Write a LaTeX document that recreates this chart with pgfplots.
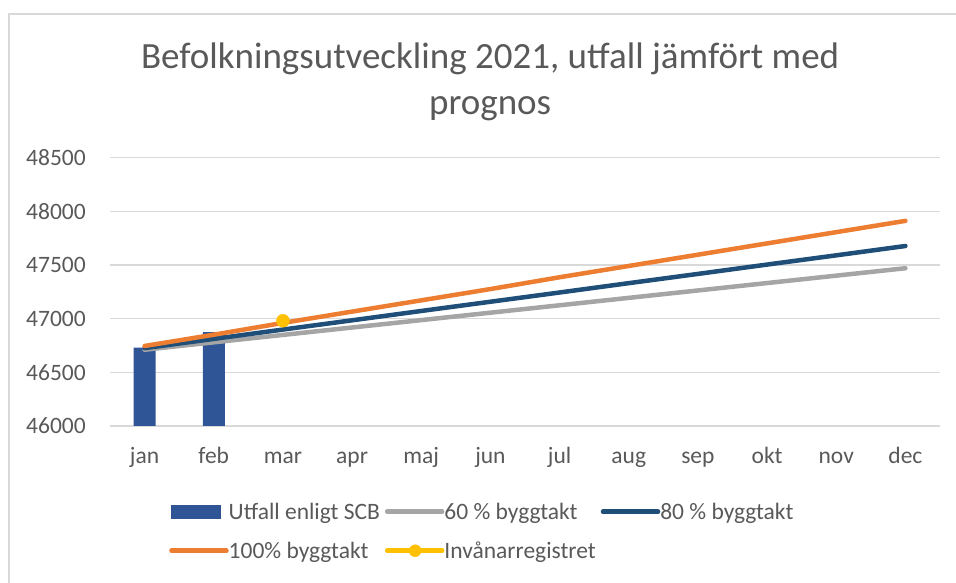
\documentclass[border=0pt]{standalone}
\usepackage{fontspec}
\setmainfont{Carlito}
\usepackage{pgfplots}
\pgfplotsset{compat=1.18}
\definecolor{txt}{HTML}{595959}
\definecolor{gridc}{HTML}{D9D9D9}
\definecolor{barblue}{HTML}{2F5597}
\definecolor{gray60}{HTML}{A5A5A5}
\definecolor{navy80}{HTML}{1F4E79}
\definecolor{orange100}{HTML}{ED7D31}
\definecolor{yellowinv}{HTML}{FFC000}
\begin{document}
\begin{tikzpicture}
\path[use as bounding box] (0pt,0pt) rectangle (956pt,583pt);
\draw[gridc, line width=1.5pt] (9pt,-2pt) -- (9pt,569pt) -- (958pt,569pt);
\begin{axis}[
  at={(110pt,157pt)}, anchor=south west,
  scale only axis, width=830pt, height=268.5pt,
  xmin=-0.5, xmax=11.5, ymin=46000, ymax=48500,
  ytick={46000,46500,...,48500},
  scaled y ticks=false,
  xtick={0,...,11},
  xticklabels={jan,feb,mar,apr,maj,jun,jul,aug,sep,okt,nov,dec},
  axis line style={draw=none},
  major tick length=0pt,
  ymajorgrids, grid style={gridc, line width=1.3pt},
  tick label style={font=\fontsize{23.5}{28}\selectfont, text=txt},
  /pgf/number format/assume math mode=true,
  /pgf/number format/set thousands separator={},
  /pgf/number format/fixed,
  yticklabel style={anchor=east, inner sep=0pt, xshift=-24pt},
  xticklabel style={anchor=base, inner sep=0pt, yshift=-38pt},
  title={Befolkningsutveckling 2021, utfall jämfört med\\prognos},
  title style={at={(0.458,1.259)}, anchor=center, align=center,
    font=\fontsize{37}{46}\selectfont, text=txt},
  legend style={at={(0.0675,-0.278)}, anchor=north west, draw=none, fill=none,
    legend columns=3,
    font=\fontsize{23.5}{28}\selectfont, text=txt,
    nodes={inner sep=0pt},
    /tikz/every odd column/.style={column sep=0pt},
    /tikz/every even column/.style={column sep=5pt},
    row sep=21pt},
  legend cell align=left,
]
\addplot[ybar, bar width=22pt, bar shift=0pt, fill=barblue, draw=none,
  legend image code/.code={\fill[barblue] (0pt,-7pt) rectangle (50pt,7pt);}]
  coordinates {(0,46730) (1,46875)};
\addlegendentry{Utfall enligt SCB}
\addplot[gray60, line width=4.5pt, line cap=round, mark=none,
  legend image code/.code={\draw[gray60, line width=4.5pt, line cap=round] (0pt,0pt) -- (55pt,0pt);}]
  coordinates {(0,46710) (1,46779) (2,46848) (3,46917) (4,46986) (5,47055) (6,47124) (7,47193) (8,47262) (9,47331) (10,47400) (11,47469)};
\addlegendentry{60 \% byggtakt}
\addplot[navy80, line width=4.5pt, line cap=round, mark=none,
  legend image code/.code={\draw[navy80, line width=4.5pt, line cap=round] (0pt,0pt) -- (55pt,0pt);}]
  coordinates {(0,46725) (1,46811) (2,46898) (3,46984) (4,47071) (5,47157) (6,47243) (7,47330) (8,47416) (9,47503) (10,47589) (11,47676)};
\addlegendentry{80 \% byggtakt}
\addplot[orange100, line width=4.5pt, line cap=round, mark=none,
  legend image code/.code={\draw[orange100, line width=4.5pt, line cap=round] (0pt,0pt) -- (55pt,0pt);}]
  coordinates {(0,46745) (1,46850) (2,46960) (3,47065) (4,47170) (5,47275) (6,47385) (7,47490) (8,47595) (9,47700) (10,47805) (11,47910)};
\addlegendentry{100\% byggtakt}
\addplot[yellowinv, only marks, mark=*, mark size=6.5pt, mark options={fill=yellowinv, draw=yellowinv},
  legend image code/.code={\draw[yellowinv, line width=4.5pt, line cap=round] (0pt,0pt) -- (55pt,0pt); \fill[yellowinv] (28pt,0pt) circle (6pt);}]
  coordinates {(2,46980)};
\addlegendentry{Invånarregistret}
\end{axis}
\end{tikzpicture}
\end{document}
